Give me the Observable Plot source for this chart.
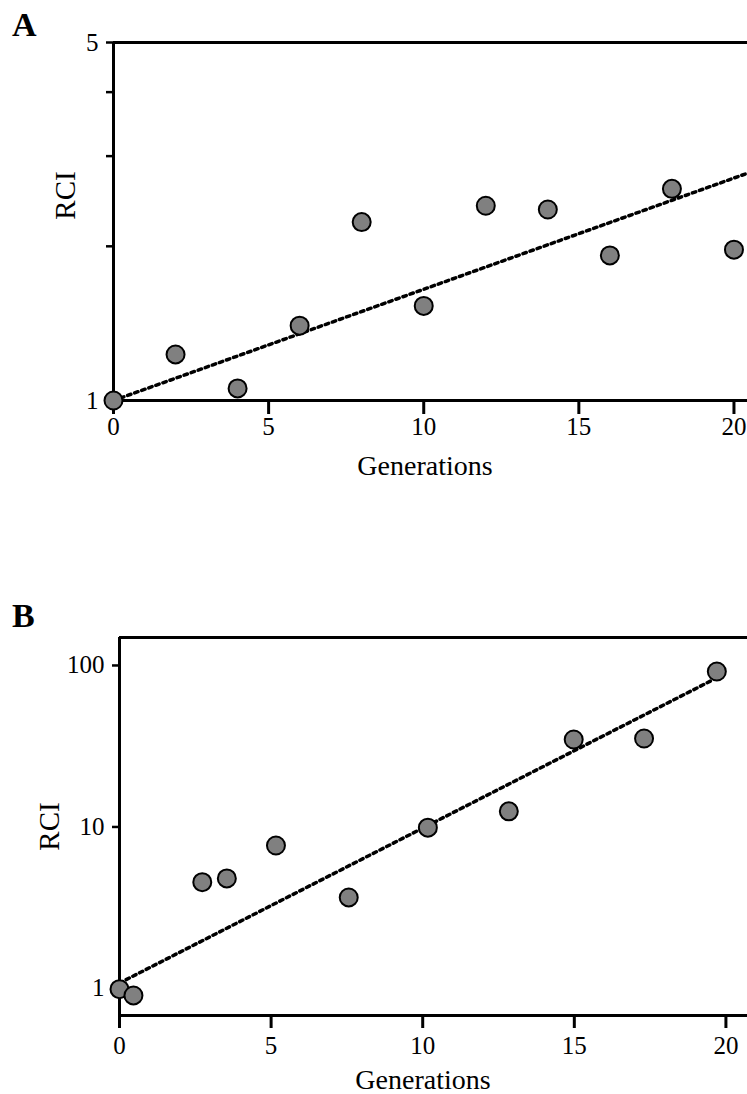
<!DOCTYPE html>
<html>
<head>
<meta charset="utf-8">
<script src="https://cdn.jsdelivr.net/npm/d3@7"></script>
<script src="https://cdn.jsdelivr.net/npm/@observablehq/plot@0.6"></script>
<style>
  html, body { margin: 0; padding: 0; background: #fff; width: 747px; height: 1094px; overflow: hidden; }
  #wrap { position: relative; width: 747px; height: 1094px; overflow: hidden; }
  .panel { position: absolute; left: 0; width: 800px; }
  .panel svg { max-width: none !important; width: 800px; height: auto; display: block; }
  .panel svg g[aria-label="x-axis tick label"],
  .panel svg g[aria-label="y-axis tick label"] { font-size: 25px !important; fill: #000; }
  .tag { position: absolute; font-family: "Liberation Serif", "Times New Roman", serif; font-weight: bold; font-size: 34px; line-height: 1; }
</style>
</head>
<body>
<div id="wrap">
  <div id="pa" class="panel" style="top:0px;"></div>
  <div id="pb" class="panel" style="top:560px;"></div>
  <div class="tag" style="left:12px; top:8px;">A</div>
  <div class="tag" style="left:12px; top:599px;">B</div>
</div>
<script>
// ---- Panel A data ----
const gensA = [0, 2, 4, 6, 8, 10, 12, 14, 16, 18, 20];
const rciA  = [1.0, 1.23, 1.056, 1.40, 2.23, 1.53, 2.40, 2.36, 1.92, 2.59, 1.97];
const trendGensA = [0, 21.5];
const trendRciA  = [1.0, 2.93];
const yTicksA = [1, 2, 3, 4, 5];
const yLabelsA = [1, 5];

// ---- Panel B data ----
const gensB = [0, 0.46, 2.73, 3.54, 5.16, 7.56, 10.17, 12.84, 14.98, 17.3, 19.7];
const rciB  = [0.99, 0.905, 4.55, 4.8, 7.68, 3.66, 9.9, 12.5, 34.8, 35.3, 91.8];
const trendGensB = [0, 19.6];
const trendRciB  = [1.08, 82];
const yTicksB = [1, 10, 100];

// ---- shared ----
const xTicks = [0, 5, 10, 15, 20];
const xLabel = "Generations";
const yLabel = "RCI";

const ptsA = gensA.map((g, i) => ({g, rci: rciA[i]}));
const trA = trendGensA.map((g, i) => ({g, rci: trendRciA[i]}));
const ptsB = gensB.map((g, i) => ({g, rci: rciB[i]}));
const trB = trendGensB.map((g, i) => ({g, rci: trendRciB[i]}));

const FONT = "'Liberation Serif', 'Times New Roman', serif";
const dotStyle = {x: "g", y: "rci", r: 9, fill: "#808080", stroke: "#000", strokeWidth: 2};
const trendStyle = {x: "g", y: "rci", stroke: "#000", strokeWidth: 3.5, strokeDasharray: "3.5,4"};

function panel({pts, tr, xDomain, yDomain, yTicks, yFmt, height, marginTop, marginBottom, marginLeft,
                xTickSize, xPad, yLabelDx, yLabelDy, xLabelDx, xLabelDy}) {
  const svg = Plot.plot({
    width: 800,
    height,
    marginTop,
    marginBottom,
    marginLeft,
    marginRight: 20,
    style: {fontFamily: FONT, fontSize: "25px", color: "#000", background: "transparent", overflow: "visible", maxWidth: "none"},
    x: {domain: xDomain},
    y: {type: "log", domain: yDomain},
    marks: [
      Plot.axisX(xTicks, {tickSize: xTickSize, tickPadding: xPad, strokeWidth: 3, fontSize: 25, label: null}),
      Plot.axisY(yTicks, {tickSize: 7, tickPadding: 8, strokeWidth: 2.5, fontSize: 25, tickFormat: yFmt, label: null}),
      Plot.ruleX([xDomain[0]], {stroke: "#000", strokeWidth: 3}),
      Plot.ruleY([yDomain[0]], {stroke: "#000", strokeWidth: 3}),
      Plot.ruleY([yDomain[1]], {stroke: "#000", strokeWidth: 3}),
      Plot.line(tr, trendStyle),
      Plot.dot(pts, dotStyle),
      Plot.text([xLabel], {frameAnchor: "bottom", dx: xLabelDx, dy: xLabelDy, fontSize: 28, textAnchor: "middle", lineAnchor: "middle"}),
      Plot.text([yLabel], {frameAnchor: "left", rotate: -90, dx: yLabelDx, dy: yLabelDy, fontSize: 29, textAnchor: "middle", lineAnchor: "middle"})
    ]
  });
  svg.style.maxWidth = "none";
  return svg;
}

document.getElementById("pa").append(panel({
  pts: ptsA, tr: trA, xDomain: [0, 21.5], yDomain: [1, 5], yTicks: yTicksA,
  yFmt: d => yLabelsA.includes(d) ? String(d) : "",
  height: 500, marginTop: 42, marginBottom: 100, marginLeft: 113,
  xTickSize: 14, xPad: 3, yLabelDx: -48, yLabelDy: -26, xLabelDx: -22, xLabelDy: 66
}));

document.getElementById("pb").append(panel({
  pts: ptsB, tr: trB, xDomain: [0, 21.8], yDomain: [0.68, 149], yTicks: yTicksB,
  yFmt: d => String(d),
  height: 534, marginTop: 77, marginBottom: 79, marginLeft: 119,
  xTickSize: 13, xPad: 8, yLabelDx: -70, yLabelDy: 0, xLabelDx: -27, xLabelDy: 65
}));
</script>
</body>
</html>
